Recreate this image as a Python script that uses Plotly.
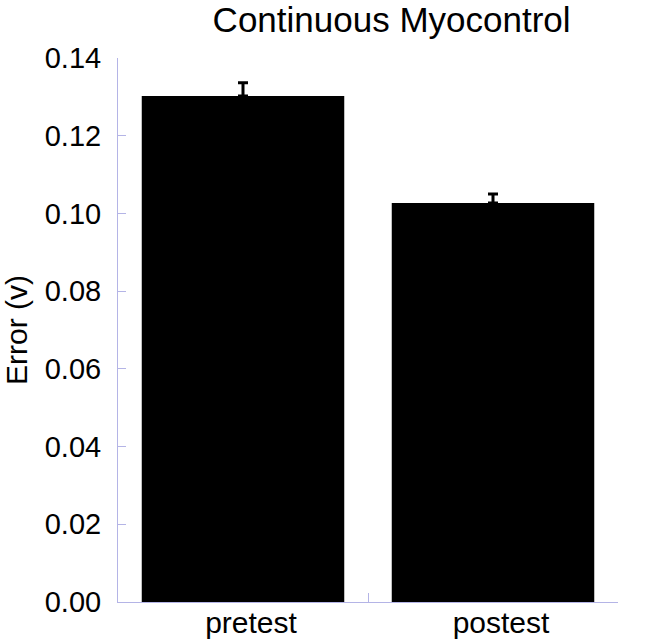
import plotly.graph_objects as go

conditions = ["pretest", "postest"]
error_mean = [0.1302, 0.1027]
error_sem = [0.0034, 0.0023]
y_ticks = [0.00, 0.02, 0.04, 0.06, 0.08, 0.10, 0.12, 0.14]

axis_color = "#b4b4e6"

fig = go.Figure()
fig.add_trace(go.Bar(
    x=conditions,
    y=error_mean,
    marker_color="black",
    marker_line_width=0,
    width=0.81,
    error_y=dict(type="data", array=error_sem, symmetric=False, arrayminus=[0, 0],
                 color="black", thickness=3, width=5),
))

fig.update_layout(
    width=666,
    height=639,
    margin=dict(l=118, r=48, t=58, b=37),
    paper_bgcolor="white",
    plot_bgcolor="white",
    showlegend=False,
    font=dict(family="Liberation Sans, Arial, sans-serif", size=29, color="black"),
    title=dict(text="Continuous Myocontrol", x=0.588, xanchor="center",
               y=0.969, yanchor="middle", font=dict(size=35)),
)
fig.update_xaxes(
    showline=True, linecolor=axis_color, linewidth=1,
    ticks="inside", tickson="boundaries", ticklen=9, tickcolor=axis_color,
    ticklabelstandoff=-6, ticklabelshift=8,
    showgrid=False, tickfont=dict(size=30), automargin=False,
)
fig.update_yaxes(
    range=[0, 0.14], tickvals=y_ticks, tickformat=".2f",
    showline=True, linecolor=axis_color, linewidth=1,
    ticks="inside", ticklen=8, tickcolor=axis_color, ticklabelstandoff=10,
    showgrid=False, zeroline=False, tickfont=dict(size=29), automargin=False,
    title=dict(text="Error (v)", font=dict(size=30), standoff=14),
)

# drop the default 8px page margin so the figure sits at the window corner
fig.write_html("out.html", config={"displayModeBar": False},
               post_script="document.body.style.margin = '0';")
